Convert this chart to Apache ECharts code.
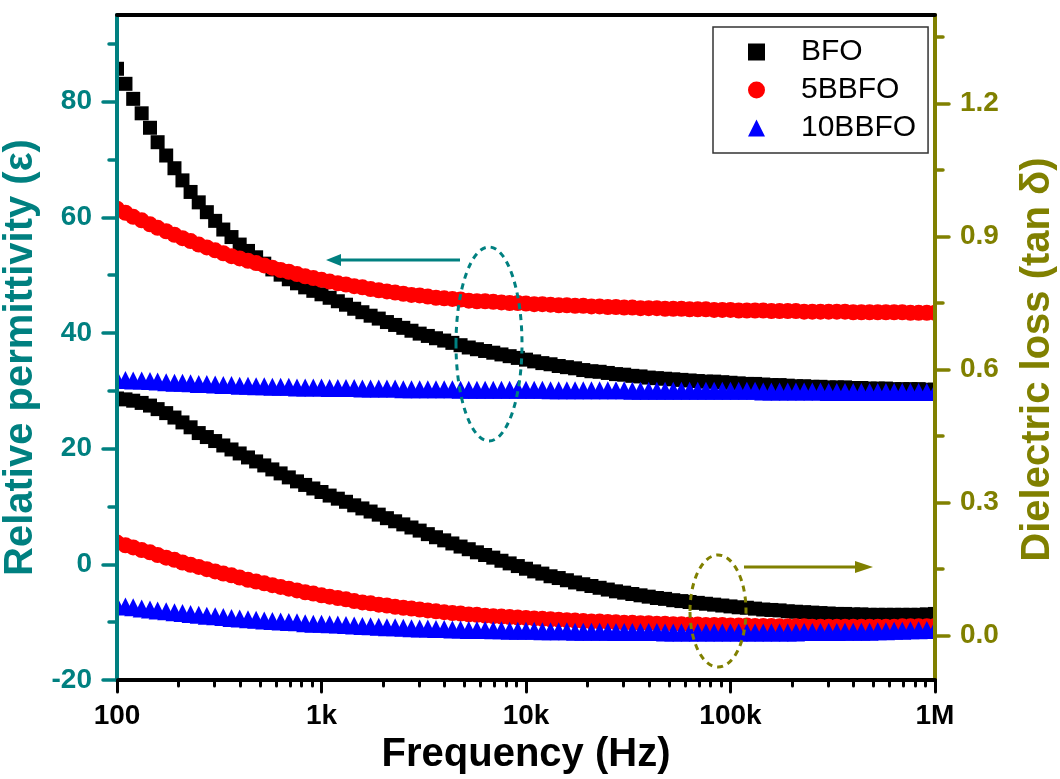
<!DOCTYPE html>
<html>
<head>
<meta charset="utf-8">
<title>Dielectric properties</title>
<script src="https://cdn.jsdelivr.net/npm/echarts@6.0.0/dist/echarts.min.js"></script>
<style>
  html, body { margin: 0; padding: 0; background: #fff; }
  #chart { width: 1060px; height: 779px; }
</style>
</head>
<body>
<div id="chart"></div>
<script>
// frequency points (Hz), 25 per decade
const freqHz = [
  100, 110, 120, 132, 145, 158, 174, 191, 209, 229, 251, 275, 302, 331, 363, 398, 437, 479, 525, 575, 631, 692, 759, 832, 912,
  1000, 1096, 1202, 1318, 1445, 1585, 1738, 1905, 2089, 2291, 2512, 2754, 3020, 3311, 3631, 3981, 4365, 4786, 5248, 5754, 6310, 6918, 7586, 8318, 9120,
  10000, 10965, 12023, 13183, 14454, 15849, 17378, 19055, 20893, 22909, 25119, 27542, 30200, 33113, 36308, 39811, 43652, 47863, 52481, 57544, 63096, 69183, 75858, 83176, 91201,
  100000, 109648, 120226, 131826, 144544, 158489, 173780, 190546, 208930, 229087, 251189, 275423, 301995, 331131, 363078, 398107, 436516, 478630, 524807, 575440, 630957, 691831, 758578, 831764, 912011,
  1000000
]

// relative permittivity
const epsBFO = [
  85.7, 83.1, 80.5, 78.0, 75.5, 73.0, 70.7, 68.5, 66.4, 64.4, 62.6, 60.9, 59.4, 57.9, 56.6, 55.3, 54.2, 53.1, 52.0, 51.0, 50.1, 49.3, 48.6, 47.9, 47.3,
  46.7, 46.1, 45.5, 44.9, 44.2, 43.6, 43.0, 42.5, 41.9, 41.4, 40.9, 40.4, 39.9, 39.5, 39.1, 38.7, 38.3, 37.9, 37.5, 37.2, 36.9, 36.6, 36.3, 36.0, 35.7,
  35.4, 35.1, 34.8, 34.6, 34.3, 34.1, 33.9, 33.6, 33.4, 33.3, 33.1, 32.9, 32.8, 32.6, 32.5, 32.3, 32.2, 32.1, 32.0, 31.9, 31.8, 31.7, 31.6, 31.6, 31.5,
  31.4, 31.3, 31.2, 31.2, 31.1, 31.0, 31.0, 30.9, 30.8, 30.8, 30.7, 30.7, 30.6, 30.6, 30.6, 30.5, 30.5, 30.4, 30.4, 30.4, 30.3, 30.3, 30.3, 30.3, 30.2,
  30.2
]
const eps5BBFO = [
  61.5, 60.8, 60.1, 59.5, 58.8, 58.2, 57.6, 57.0, 56.4, 55.9, 55.3, 54.8, 54.3, 53.8, 53.3, 52.9, 52.5, 52.1, 51.7, 51.3, 50.9, 50.6, 50.2, 49.8, 49.5,
  49.2, 48.9, 48.6, 48.4, 48.1, 47.9, 47.6, 47.4, 47.2, 47.0, 46.8, 46.6, 46.5, 46.3, 46.1, 46.0, 45.9, 45.8, 45.6, 45.5, 45.5, 45.4, 45.3, 45.2, 45.2,
  45.1, 45.0, 45.0, 44.9, 44.8, 44.8, 44.7, 44.7, 44.6, 44.6, 44.5, 44.5, 44.4, 44.4, 44.3, 44.3, 44.3, 44.2, 44.2, 44.2, 44.1, 44.1, 44.1, 44.0, 44.0,
  44.0, 43.9, 43.9, 43.9, 43.9, 43.8, 43.8, 43.8, 43.8, 43.7, 43.7, 43.7, 43.7, 43.7, 43.7, 43.6, 43.6, 43.6, 43.6, 43.6, 43.6, 43.6, 43.5, 43.5, 43.5,
  43.5
]
const eps10BBFO = [
  32.0, 31.9, 31.8, 31.8, 31.7, 31.6, 31.5, 31.4, 31.4, 31.3, 31.2, 31.2, 31.1, 31.0, 31.0, 30.9, 30.9, 30.8, 30.8, 30.7, 30.7, 30.7, 30.6, 30.6, 30.6,
  30.6, 30.5, 30.5, 30.5, 30.5, 30.4, 30.4, 30.4, 30.4, 30.4, 30.3, 30.3, 30.3, 30.3, 30.3, 30.3, 30.3, 30.2, 30.2, 30.2, 30.2, 30.2, 30.2, 30.2, 30.2,
  30.2, 30.2, 30.2, 30.1, 30.1, 30.1, 30.1, 30.1, 30.1, 30.1, 30.1, 30.1, 30.1, 30.0, 30.0, 30.0, 30.0, 30.0, 30.0, 30.0, 30.0, 30.0, 30.0, 30.0, 30.0,
  30.0, 30.0, 30.0, 30.0, 29.9, 29.9, 29.9, 29.9, 29.9, 29.9, 29.9, 29.9, 29.8, 29.8, 29.8, 29.8, 29.8, 29.8, 29.8, 29.8, 29.8, 29.8, 29.8, 29.8, 29.8,
  29.8
]

// dielectric loss (tan delta)
const tanBFO = [
  0.535, 0.533, 0.530, 0.525, 0.519, 0.511, 0.502, 0.492, 0.481, 0.470, 0.457, 0.448, 0.439, 0.429, 0.420, 0.411, 0.402, 0.393, 0.384, 0.375, 0.366, 0.357, 0.348, 0.340, 0.332,
  0.324, 0.316, 0.309, 0.302, 0.294, 0.287, 0.280, 0.273, 0.265, 0.258, 0.251, 0.244, 0.237, 0.229, 0.222, 0.215, 0.208, 0.201, 0.195, 0.188, 0.182, 0.176, 0.169, 0.163, 0.157,
  0.151, 0.145, 0.140, 0.134, 0.130, 0.125, 0.120, 0.116, 0.112, 0.108, 0.104, 0.100, 0.097, 0.094, 0.091, 0.088, 0.085, 0.083, 0.080, 0.078, 0.076, 0.074, 0.072, 0.070, 0.068,
  0.066, 0.064, 0.063, 0.061, 0.059, 0.058, 0.057, 0.055, 0.054, 0.053, 0.052, 0.051, 0.050, 0.049, 0.049, 0.048, 0.048, 0.047, 0.047, 0.047, 0.047, 0.047, 0.047, 0.047, 0.048,
  0.049
]
const tan5BBFO = [
  0.210, 0.204, 0.199, 0.193, 0.188, 0.182, 0.176, 0.171, 0.165, 0.160, 0.155, 0.150, 0.145, 0.140, 0.136, 0.131, 0.126, 0.122, 0.118, 0.114, 0.110, 0.106, 0.102, 0.098, 0.095,
  0.091, 0.088, 0.085, 0.082, 0.078, 0.075, 0.073, 0.070, 0.068, 0.065, 0.063, 0.061, 0.059, 0.057, 0.055, 0.053, 0.051, 0.050, 0.048, 0.047, 0.045, 0.044, 0.043, 0.042, 0.041,
  0.040, 0.039, 0.038, 0.037, 0.036, 0.035, 0.034, 0.033, 0.032, 0.032, 0.031, 0.030, 0.029, 0.029, 0.028, 0.028, 0.027, 0.027, 0.026, 0.026, 0.025, 0.025, 0.024, 0.024, 0.024,
  0.023, 0.023, 0.023, 0.022, 0.022, 0.022, 0.021, 0.021, 0.021, 0.021, 0.020, 0.020, 0.020, 0.020, 0.020, 0.020, 0.020, 0.020, 0.020, 0.020, 0.020, 0.021, 0.021, 0.021, 0.021,
  0.022
]
const tan10BBFO = [
  0.068, 0.066, 0.064, 0.061, 0.059, 0.057, 0.055, 0.053, 0.051, 0.049, 0.047, 0.045, 0.044, 0.042, 0.040, 0.039, 0.037, 0.036, 0.034, 0.033, 0.032, 0.031, 0.030, 0.028, 0.027,
  0.027, 0.026, 0.025, 0.024, 0.023, 0.022, 0.021, 0.020, 0.019, 0.019, 0.018, 0.017, 0.016, 0.016, 0.015, 0.015, 0.014, 0.014, 0.013, 0.013, 0.013, 0.012, 0.012, 0.011, 0.011,
  0.011, 0.011, 0.010, 0.010, 0.010, 0.010, 0.009, 0.009, 0.009, 0.009, 0.009, 0.008, 0.008, 0.008, 0.008, 0.008, 0.008, 0.007, 0.007, 0.007, 0.007, 0.007, 0.007, 0.007, 0.007,
  0.007, 0.007, 0.007, 0.007, 0.007, 0.007, 0.007, 0.007, 0.007, 0.008, 0.008, 0.008, 0.008, 0.008, 0.009, 0.009, 0.009, 0.009, 0.010, 0.010, 0.011, 0.011, 0.012, 0.012, 0.013,
  0.014
]

// tick labels
const xTickValues = [100, 1000, 10000, 100000, 1000000]
const xTickLabels = ['100', '1k', '10k', '100k', '1M']
const epsTicks = [-20, 0, 20, 40, 60, 80]
const epsMinorTicks = [-10, 10, 30, 50, 70, 90]
const tanTicks = [0, 0.3, 0.6, 0.9, 1.2]
const tanMinorTicks = [0.15, 0.45, 0.75, 1.05, 1.35]

const TEAL = '#008080'
const OLIVE = '#808000'
const FONT = "'Liberation Sans', Arial, sans-serif"

// minor ticks of the log axis at 2..9 of every decade, drawn on a log10 value axis
const xMinorTicks = []
for (const d of [100, 1000, 10000, 100000]) {
  for (let m = 2; m <= 9; m++) xMinorTicks.push(Math.log10(d * m))
}

function pairs(ys) {
  return freqHz.map((f, i) => [f, ys[i]])
}

const chart = echarts.init(document.getElementById('chart'), null, { renderer: 'canvas' })

const tickLabel = (color) => ({
  color,
  fontSize: 28,
  fontWeight: 'bold',
  fontFamily: FONT,
})

const markers = {
  BFO: { symbol: 'rect', symbolSize: 14, color: '#000000' },
  '5BBFO': { symbol: 'circle', symbolSize: 16, color: '#ff0000' },
  '10BBFO': { symbol: 'triangle', symbolSize: 18, color: '#0000ff' },
}

function scatter(name, yAxisIndex, ys) {
  const m = markers[name]
  return {
    name,
    type: 'scatter',
    yAxisIndex,
    symbol: m.symbol,
    symbolSize: m.symbolSize,
    itemStyle: { color: m.color, opacity: 1 },
    data: pairs(ys),
  }
}

const option = {
  animation: false,
  backgroundColor: '#fff',
  grid: { left: 117, right: 125, top: 15, bottom: 99, containLabel: false, outerBoundsMode: 'none' },
  legend: {
    orient: 'vertical',
    left: 713,
    top: 27,
    padding: [10, 12, 10, 35],
    itemGap: 8,
    itemWidth: 17,
    itemHeight: 17,
    borderColor: '#333',
    borderWidth: 1.5,
    backgroundColor: '#fff',
    data: ['BFO', '5BBFO', '10BBFO'],
    textStyle: { fontSize: 30, fontFamily: FONT, color: '#000', padding: [0, 0, 0, 31] },
  },
  xAxis: [
    {
      type: 'log',
      logBase: 10,
      min: 100,
      max: 1000000,
      position: 'bottom',
      z: 5,
      name: 'Frequency (Hz)',
      nameLocation: 'middle',
      nameGap: 47,
      nameTextStyle: { fontSize: 40, fontWeight: 'bold', fontFamily: FONT, color: '#000' },
      axisLine: { onZero: false, lineStyle: { color: '#000', width: 4 } },
      axisTick: { length: 12, lineStyle: { color: '#000', width: 3, cap: 'round' } },
      axisLabel: {
        ...tickLabel('#000'),
        margin: 22,
        formatter: (v) => {
          const i = xTickValues.findIndex((t) => Math.abs(t - v) / t < 1e-6)
          return i >= 0 ? xTickLabels[i] : ''
        },
      },
      splitLine: { show: false },
    },
    {
      // minor ticks along the bottom
      type: 'value',
      min: 2,
      max: 6,
      position: 'bottom',
      z: 5,
      axisLine: { show: false, onZero: false },
      axisLabel: { show: false },
      axisTick: { customValues: xMinorTicks, length: 6, lineStyle: { color: '#000', width: 3, cap: 'round' } },
      splitLine: { show: false },
    },
    {
      // top frame line
      type: 'value',
      min: 2,
      max: 6,
      position: 'top',
      z: 5,
      axisLine: { onZero: false, lineStyle: { color: '#000', width: 4 } },
      axisTick: { show: false },
      axisLabel: { show: false },
      splitLine: { show: false },
    },
  ],
  yAxis: [
    {
      type: 'value',
      min: -20,
      max: 95,
      position: 'left',
      z: 5,
      name: 'Relative permittivity (ε)',
      nameLocation: 'middle',
      nameRotate: 90,
      nameGap: 68,
      nameTextStyle: { fontSize: 40, fontWeight: 'bold', fontFamily: FONT, color: TEAL, padding: [0, 20, 0, 0] },
      axisLine: { onZero: false, lineStyle: { color: TEAL, width: 4 } },
      axisTick: { customValues: epsTicks, length: 14, lineStyle: { color: TEAL, width: 3.5, cap: 'round' } },
      axisLabel: { ...tickLabel(TEAL), customValues: epsTicks, margin: 25 },
      splitLine: { show: false },
    },
    {
      type: 'value',
      min: -0.1,
      max: 1.4,
      position: 'right',
      z: 5,
      name: 'Dielectric loss (tan δ)',
      nameLocation: 'middle',
      nameRotate: 90,
      nameGap: 83,
      nameTextStyle: { fontSize: 40, fontWeight: 'bold', fontFamily: FONT, color: OLIVE, padding: [0, 24, 0, 0] },
      axisLine: { onZero: false, lineStyle: { color: OLIVE, width: 4 } },
      axisTick: { customValues: tanTicks, length: 14, lineStyle: { color: OLIVE, width: 3.5, cap: 'round' } },
      axisLabel: { ...tickLabel(OLIVE), customValues: tanTicks, margin: 25, formatter: (v) => v.toFixed(1) },
      splitLine: { show: false },
    },
    {
      type: 'value',
      min: -20,
      max: 95,
      position: 'left',
      z: 5,
      axisLine: { show: false, onZero: false },
      axisLabel: { show: false },
      axisTick: { customValues: epsMinorTicks, length: 8, lineStyle: { color: TEAL, width: 3.5, cap: 'round' } },
      splitLine: { show: false },
    },
    {
      type: 'value',
      min: -0.1,
      max: 1.4,
      position: 'right',
      z: 5,
      axisLine: { show: false, onZero: false },
      axisLabel: { show: false },
      axisTick: { customValues: tanMinorTicks, length: 8, lineStyle: { color: OLIVE, width: 3.5, cap: 'round' } },
      splitLine: { show: false },
    },
  ],
  series: [
    scatter('BFO', 0, epsBFO),
    scatter('5BBFO', 0, eps5BBFO),
    scatter('10BBFO', 0, eps10BBFO),
    scatter('BFO', 1, tanBFO),
    scatter('5BBFO', 1, tan5BBFO),
    scatter('10BBFO', 1, tan10BBFO),
  ],
  graphic: [
    // keep markers inside the frame
    { type: 'rect', z: 3, silent: true, shape: { x: 92, y: 15, width: 23, height: 665 }, style: { fill: '#fff' } },
    { type: 'rect', z: 3, silent: true, shape: { x: 937, y: 15, width: 21, height: 665 }, style: { fill: '#fff' } },
    // annotations
    { type: 'ellipse', z: 10, shape: { cx: 489, cy: 344, rx: 33, ry: 97 }, style: { fill: null, stroke: TEAL, lineWidth: 3, lineDash: [6, 5] } },
    { type: 'line', z: 10, shape: { x1: 460, y1: 260, x2: 338, y2: 260 }, style: { stroke: TEAL, lineWidth: 3 } },
    { type: 'polygon', z: 10, shape: { points: [[326, 260], [341, 254], [341, 266]] }, style: { fill: TEAL } },
    { type: 'ellipse', z: 10, shape: { cx: 718, cy: 611, rx: 28, ry: 56 }, style: { fill: null, stroke: OLIVE, lineWidth: 3, lineDash: [6, 5] } },
    { type: 'line', z: 10, shape: { x1: 744, y1: 567, x2: 860, y2: 567 }, style: { stroke: OLIVE, lineWidth: 3 } },
    { type: 'polygon', z: 10, shape: { points: [[873, 567], [855, 561], [855, 573]] }, style: { fill: OLIVE } },
  ],
}

chart.setOption(option)
</script>
</body>
</html>
